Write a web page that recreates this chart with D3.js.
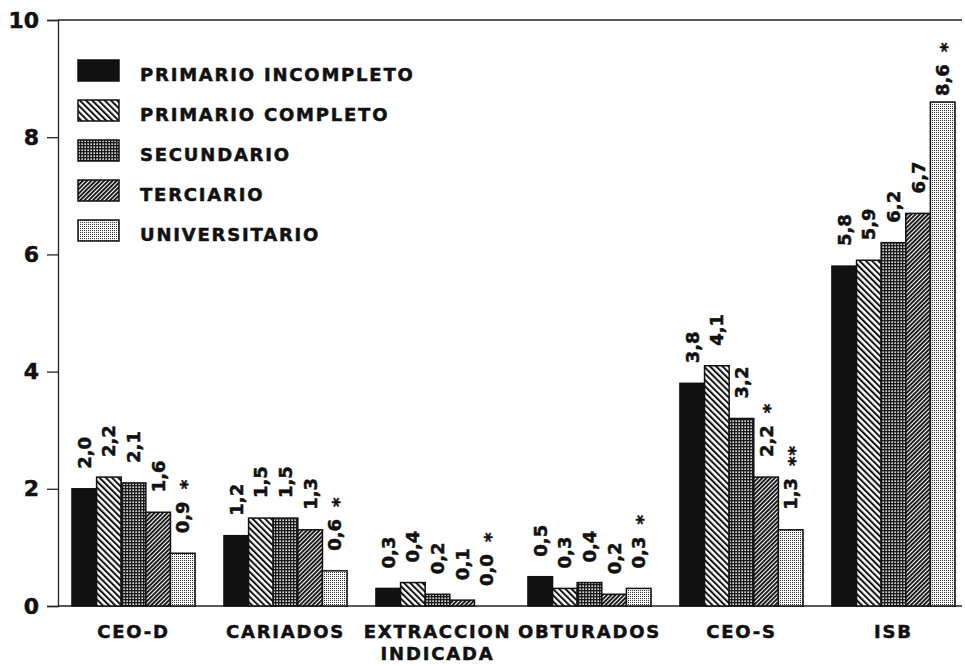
<!DOCTYPE html>
<html lang="es">
<head>
<meta charset="UTF-8">
<title>CEO-D, CEO-S e ISB por nivel educacional</title>
<script src="https://cdn.jsdelivr.net/npm/d3@7/dist/d3.min.js"></script>
<style>
    body {margin: 0; background: #fff;}
    svg text {font-family: "DejaVu Sans", sans-serif; font-weight: bold; fill: #111;
              stroke: #111; stroke-width: 0.5px;}
</style>
</head>
<body>
<div id="grafico"></div>
<script>
// datos
const grupos = ["CEO-D", "CARIADOS", "EXTRACCION\nINDICADA", "OBTURADOS", "CEO-S", "ISB"];
const niveles = ["PRIMARIO INCOMPLETO", "PRIMARIO COMPLETO", "SECUNDARIO", "TERCIARIO", "UNIVERSITARIO"];
const primarioIncompleto = [2.0, 1.2, 0.3, 0.5, 3.8, 5.8];
const primarioCompleto   = [2.2, 1.5, 0.4, 0.3, 4.1, 5.9];
const secundario         = [2.1, 1.5, 0.2, 0.4, 3.2, 6.2];
const terciario          = [1.6, 1.3, 0.1, 0.2, 2.2, 6.7];
const universitario      = [0.9, 0.6, 0.0, 0.3, 1.3, 8.6];
// marcas de significancia
const marcasTerciario     = ["", "", "", "", "*", ""];
const marcasUniversitario = ["*", "*", "*", "*", "**", "*"];
const ticksY = [0, 2, 4, 6, 8, 10];

const series = [primarioIncompleto, primarioCompleto, secundario, terciario, universitario];
const marcas = [null, null, null, marcasTerciario, marcasUniversitario];

const width = 965, height = 666;
const ejeX = 58, finX = 962, y0 = 606, y10 = 20;

const svg = d3.select("#grafico").append("svg")
    .attr("width", width)
    .attr("height", height);

// tramas
const defs = svg.append("defs");
function rayas(id, ancho, grosor, angulo) {
    const p = defs.append("pattern")
        .attr("id", id)
        .attr("patternUnits", "userSpaceOnUse")
        .attr("width", ancho).attr("height", 10)
        .attr("patternTransform", "rotate(" + angulo + ")");
    p.append("rect").attr("width", ancho).attr("height", 10).attr("fill", "#fff");
    p.append("rect").attr("width", grosor).attr("height", 10).attr("fill", "#111");
}
rayas("completo", 4.4, 2.0, -45);
rayas("terciario", 3.0, 1.9, 45);

const sec = defs.append("pattern").attr("id", "secundario")
    .attr("patternUnits", "userSpaceOnUse").attr("width", 3).attr("height", 3);
sec.append("rect").attr("width", 3).attr("height", 3).attr("fill", "#1a1a1a");
sec.append("rect").attr("x", 0.4).attr("y", 0.4).attr("width", 1.5).attr("height", 1.5).attr("fill", "#fff");

const uni = defs.append("pattern").attr("id", "universitario")
    .attr("patternUnits", "userSpaceOnUse").attr("width", 2).attr("height", 2);
uni.append("rect").attr("width", 2).attr("height", 2).attr("fill", "#fff");
uni.append("rect").attr("width", 1).attr("height", 1).attr("fill", "#333");

const rellenos = ["#111", "url(#completo)", "url(#secundario)", "url(#terciario)", "url(#universitario)"];

// escalas
const x0 = d3.scaleBand()
    .domain(grupos)
    .range([ejeX, 969])
    .paddingInner(0.19)
    .paddingOuter(0.092);
const x1 = d3.scaleBand()
    .domain(d3.range(niveles.length))
    .range([0, x0.bandwidth()]);
const y = d3.scaleLinear()
    .domain([0, 10])
    .range([y0, y10]);

const coma = d3.formatLocale({decimal: ",", thousands: ".", grouping: [3], currency: ["", ""]}).format(".1f");

// marco
svg.append("line").attr("x1", ejeX).attr("x2", finX).attr("y1", y(10)).attr("y2", y(10))
    .attr("stroke", "#222").attr("stroke-width", 1.3);
svg.append("line").attr("x1", ejeX).attr("x2", finX).attr("y1", y(0)).attr("y2", y(0))
    .attr("stroke", "#222").attr("stroke-width", 1.5);

// eje Y
const gy = svg.append("g")
    .attr("transform", "translate(" + ejeX + ",0)")
    .call(d3.axisLeft(y).tickValues(ticksY).tickSize(11).tickPadding(8).tickFormat(d3.format("d")));
gy.select(".domain").attr("stroke", "#222").attr("stroke-width", 1.3);
gy.selectAll(".tick line").attr("stroke", "#222").attr("stroke-width", 1.3);
gy.selectAll(".tick text").attr("font-size", 22).attr("fill", "#111")
    .style("font-family", "'DejaVu Sans', sans-serif").style("font-weight", "bold");

// barras
const filas = [];
grupos.forEach(function(g, gi) {
    series.forEach(function(s, si) {
        filas.push({grupo: g, nivel: si, valor: s[gi], marca: marcas[si] ? marcas[si][gi] : ""});
    });
});

const barras = svg.append("g");
barras.selectAll("rect")
    .data(filas.filter(function(d) { return d.valor > 0; }))
    .join("rect")
    .attr("x", function(d) { return x0(d.grupo) + x1(d.nivel); })
    .attr("y", function(d) { return y(d.valor); })
    .attr("width", x1.bandwidth())
    .attr("height", function(d) { return y(0) - y(d.valor); })
    .attr("fill", function(d) { return rellenos[d.nivel]; })
    .attr("stroke", "#111")
    .attr("stroke-width", 1.5);

// etiquetas de valor (rotadas); se acercan a la barra cuando no hay sitio arriba
const etiquetas = svg.append("g").selectAll("text")
    .data(filas)
    .join("text")
    .attr("transform", function(d) {
        const cx = x0(d.grupo) + x1(d.nivel) + x1.bandwidth() / 2;
        const hueco = Math.min(20, y(d.valor) - 96);
        return "translate(" + cx + "," + (y(d.valor) - hueco) + ") rotate(-90)";
    })
    .attr("dy", "0.36em")
    .attr("font-size", 18);
etiquetas.append("tspan").text(function(d) { return coma(d.valor); });
etiquetas.filter(function(d) { return d.marca; })
    .append("tspan")
    .attr("dx", 12)
    .attr("dy", "0.2em")
    .attr("letter-spacing", 1)
    .text(function(d) { return d.marca; });

// eje X
const gx = svg.append("g");
gx.selectAll("text")
    .data(grupos)
    .join("text")
    .attr("x", function(d) { return x0(d) + x0.bandwidth() / 2; })
    .attr("y", 638)
    .attr("text-anchor", "middle")
    .attr("font-size", 18)
    .attr("letter-spacing", 1.8)
    .each(function(d) {
        const t = d3.select(this);
        d.split("\n").forEach(function(linea, i) {
            t.append("tspan")
                .attr("x", x0(d) + x0.bandwidth() / 2)
                .attr("dy", i === 0 ? 0 : 22)
                .text(linea);
        });
    });

// leyenda
const leyenda = svg.append("g").selectAll("g")
    .data(niveles)
    .join("g")
    .attr("transform", function(d, i) { return "translate(78," + (60 + i * 40) + ")"; });
leyenda.append("rect")
    .attr("width", 41).attr("height", 21)
    .attr("fill", function(d, i) { return rellenos[i]; })
    .attr("stroke", "#111").attr("stroke-width", 1.5);
leyenda.append("text")
    .attr("x", 62).attr("y", 21)
    .attr("font-size", 18)
    .attr("letter-spacing", 1.8)
    .text(function(d) { return d; });
</script>
</body>
</html>
